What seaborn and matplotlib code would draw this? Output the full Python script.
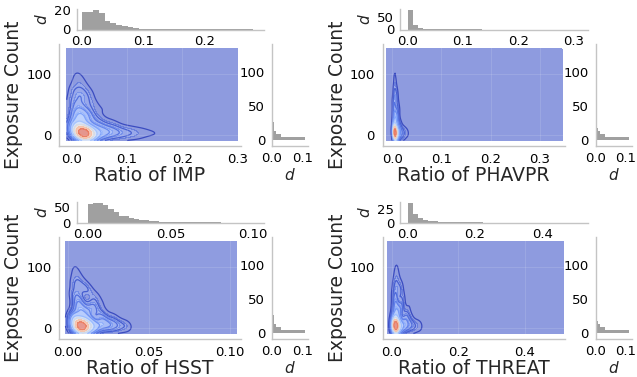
import numpy as np
import matplotlib
matplotlib.use("Agg")
import matplotlib.pyplot as plt
import seaborn as sns

sns.set_theme(style="white")
plt.rcParams["font.family"] = ["DejaVu Sans"]
plt.rcParams["mathtext.fontset"] = "dejavusans"

# ---------------- data ----------------
# Exposure Count (shared by all four joint plots): representative observations + weights
exposure_y = [2, 4, 4, 7, 2, 2, 11, 10, 3, 5, 4, 5, 4, 5, 4, 4, 14, 18, 24, 18,
              26, 34, 38, 42, 45, 52, 55, 62, 70, 75, 82, 90, 97, 30, 66, 105, 112,
              5, 60, 20]
exposure_w = [22, 9, 9, 7, 4, 5, 5, 5, 5, 4, 3, 2.5, 1.8, 1.3, 1.0, 0.8, 2.5, 1.5, 2.5, 6,
              5, 4.5, 3, 1.2, 3.5, 1.8, 2.5, 2.2, 1.4, 1.6, 1.2, 0.9, 0.7, 3, 1.8, 0.45, 0.25,
              0.002, 0.002, 0.002]

# Ratio values paired with the observations above
imp_x = [0.022, 0.014, 0.030, 0.022, 0.006, 0.040, 0.010, 0.034,
         0.055, 0.070, 0.085, 0.100, 0.115, 0.130, 0.147, 0.163,
         0.055, 0.075, 0.045,
         0.008, 0.016, 0.010, 0.030, 0.060, 0.012, 0.035, 0.006, 0.020, 0.030,
         0.008, 0.018, 0.010, 0.014, 0.025, 0.010, 0.008, 0.010,
         0.22, 0.29, 0.25]
phavpr_x = [0.006, 0.004, 0.009, 0.006, 0.002, 0.011, 0.004, 0.009,
            0.013, 0.016, 0.019, 0.022, 0.025, 0.028, 0.031, 0.034,
            0.013, 0.017, 0.012,
            0.004, 0.007, 0.004, 0.010, 0.015, 0.005, 0.011, 0.003, 0.008, 0.010,
            0.004, 0.007, 0.005, 0.006, 0.009, 0.005, 0.005, 0.006,
            0.12, 0.22, 0.33]
hsst_x = [0.0085, 0.006, 0.011, 0.0085, 0.003, 0.014, 0.005, 0.013,
          0.017, 0.021, 0.025, 0.028, 0.031, 0.034, 0.036, 0.038,
          0.022, 0.028, 0.020,
          0.004, 0.010, 0.006, 0.016, 0.024, 0.007, 0.017, 0.004, 0.012, 0.010,
          0.004, 0.007, 0.004, 0.005, 0.014, 0.006, 0.004, 0.004,
          0.07, 0.095, 0.085]
threat_x = [0.012, 0.007, 0.018, 0.012, 0.003, 0.025, 0.008, 0.022,
            0.033, 0.042, 0.051, 0.060, 0.068, 0.076, 0.083, 0.090,
            0.040, 0.055, 0.045,
            0.008, 0.018, 0.010, 0.030, 0.055, 0.012, 0.032, 0.008, 0.022, 0.028,
            0.010, 0.018, 0.012, 0.015, 0.025, 0.012, 0.014, 0.016,
            0.25, 0.38, 0.50]

# marginal histogram of Exposure Count (density per bin)
exposure_bin = 4.4
exposure_density = [0.109, 0.031, 0.0135, 0.008, 0.006, 0.005, 0.004, 0.0035, 0.003, 0.0025,
                    0.002, 0.002, 0.0018, 0.0015, 0.0013, 0.0012, 0.001, 0.0009, 0.0008, 0.0007,
                    0.0006, 0.0005, 0.0005, 0.0004, 0.0004, 0.0003, 0.0003, 0.0002, 0.0002, 0.0002]

# marginal histograms of the ratios (density per bin)
imp_bin = 0.0093
imp_density = [18.2, 18.3, 20.0, 16.5, 9.0, 7.0, 4.5, 3.4, 2.4, 1.4, 0.9, 0.6, 0.5, 0.5,
               0.3, 0.3, 0.2, 0.2, 0.1, 0.1, 0.1, 0.05, 0.05, 0.05, 0.03, 0.03, 0.03, 0.03, 0.02, 0.02]
phavpr_bin = 0.009
phavpr_density = [79, 17, 6, 2.5, 1.2, 0.6, 0.3, 0.2, 0.1, 0.1, 0.05, 0.05, 0.03, 0.03, 0.02]
hsst_bin = 0.0031
hsst_density = [60, 62, 62, 55, 43, 32, 22, 20, 15, 10, 9, 7, 5, 4, 3, 2, 1.5, 1, 0.8,
                0.5, 0.4, 0.3, 0.2, 0.2, 0.1, 0.1]
threat_bin = 0.015
threat_density = [35, 15, 8, 5, 3, 2, 1.3, 0.9, 0.6, 0.4, 0.3, 0.2, 0.15, 0.1, 0.1]

panels = [
    dict(label="IMP", x=imp_x, dens=imp_density, binw=imp_bin,
         grid=(-0.009, 0.2995), xlim=(-0.023, 0.306), xticks=[0, 0.1, 0.2, 0.3],
         top_xlim=(-0.008, 0.297), top_xticks=[0, 0.1, 0.2], top_yticks=[0, 20]),
    dict(label="PHAVPR", x=phavpr_x, dens=phavpr_density, binw=phavpr_bin,
         grid=(-0.012, 0.345), xlim=(-0.0196, 0.35), xticks=[0, 0.1, 0.2, 0.3],
         top_xlim=(-0.013, 0.325), top_xticks=[0, 0.1, 0.2, 0.3], top_yticks=[0, 50]),
    dict(label="HSST", x=hsst_x, dens=hsst_density, binw=hsst_bin,
         grid=(-0.0016, 0.104), xlim=(-0.0056, 0.1068), xticks=[0, 0.05, 0.10],
         top_xlim=(-0.0067, 0.1069), top_xticks=[0, 0.05, 0.10], top_yticks=[0, 50]),
    dict(label="THREAT", x=threat_x, dens=threat_density, binw=threat_bin,
         grid=(-0.012, 0.517), xlim=(-0.028, 0.52), xticks=[0, 0.2, 0.4],
         top_xlim=(-0.022, 0.535), top_xticks=[0, 0.2, 0.4], top_yticks=[0, 25]),
]
offsets = [(0, 0), (323.5, 0), (0, 193), (323.5, 193)]

# ---------------- figure ----------------
W, H = 637, 377
fig = plt.figure(figsize=(W / 100, H / 100), dpi=100)

SPINE = "#c4c4c4"
BW = 0.6
TICK = 9.5


def box(l, t, r, b, ox, oy):
    return [(l + ox) / W, 1 - (b + oy) / H, (r - l) / W, (b - t) / H]


def style(ax, xpad=1.5, ypad=3.0):
    for s in ["top", "right"]:
        ax.spines[s].set_visible(False)
    for s in ["left", "bottom"]:
        ax.spines[s].set_color(SPINE)
        ax.spines[s].set_linewidth(1.0)
    ax.tick_params(length=3, width=0.8, color=SPINE, labelsize=TICK, labelcolor="black")
    ax.tick_params(axis="x", pad=xpad)
    ax.tick_params(axis="y", pad=ypad)


for p, (ox, oy) in zip(panels, offsets):
    ax = fig.add_axes(box(59, 44, 241, 146, ox, oy))
    ax_t = fig.add_axes(box(77, 9, 264, 29.5, ox, oy))
    ax_r = fig.add_axes(box(272, 44, 308, 146, ox, oy))

    clip = (p["grid"], (-8, 140))
    sns.kdeplot(x=p["x"], y=exposure_y, weights=exposure_w, fill=True, thresh=0,
                levels=10, cmap="coolwarm", alpha=0.6, bw_adjust=BW, clip=clip,
                cut=200, ax=ax)
    sns.kdeplot(x=p["x"], y=exposure_y, weights=exposure_w, levels=10,
                cmap="coolwarm", linewidths=0.9, bw_adjust=BW, clip=clip,
                cut=200, ax=ax)
    ax.set_xlim(*p["xlim"])
    ax.set_ylim(-17, 148)
    ax.set_xticks(p["xticks"])
    ax.set_yticks([0, 100])
    ax.grid(True, color="white", alpha=0.12, linewidth=0.8)
    ax.set_axisbelow(False)
    style(ax, xpad=2.0, ypad=2.5)
    ax.set_xlabel(f"Ratio of {p['label']}", fontsize=13.5, labelpad=0)
    ax.set_ylabel("Exposure Count", fontsize=13.5, labelpad=2)

    n = len(p["dens"])
    centers = (np.arange(n) + 0.5) * p["binw"]
    sns.histplot(x=centers, weights=p["dens"], binwidth=p["binw"],
                 binrange=(0, n * p["binw"]), color="gray", alpha=0.75,
                 linewidth=0, ax=ax_t)
    ax_t.set_xlim(*p["top_xlim"])
    ax_t.set_xticks(p["top_xticks"])
    ax_t.set_yticks(p["top_yticks"])
    ax_t.set_xlabel("")
    ax_t.set_ylabel("$d$", fontsize=11, labelpad=3)
    style(ax_t, xpad=1.0, ypad=1.5)

    m = len(exposure_density)
    ycent = (np.arange(m) + 0.5) * exposure_bin
    sns.histplot(y=ycent, weights=exposure_density, binwidth=exposure_bin,
                 binrange=(0, m * exposure_bin), color="gray", alpha=0.75,
                 linewidth=0, ax=ax_r)
    ax_r.set_ylim(-8, 140)
    ax_r.set_xlim(0, 0.118)
    ax_r.set_xticks([0, 0.1])
    ax_r.set_yticks([0, 50, 100])
    ax_r.set_ylabel("")
    ax_r.set_xlabel("$d$", fontsize=11, labelpad=1)
    style(ax_r, xpad=1.5, ypad=2.0)

fig.savefig("out.png", dpi=100)
